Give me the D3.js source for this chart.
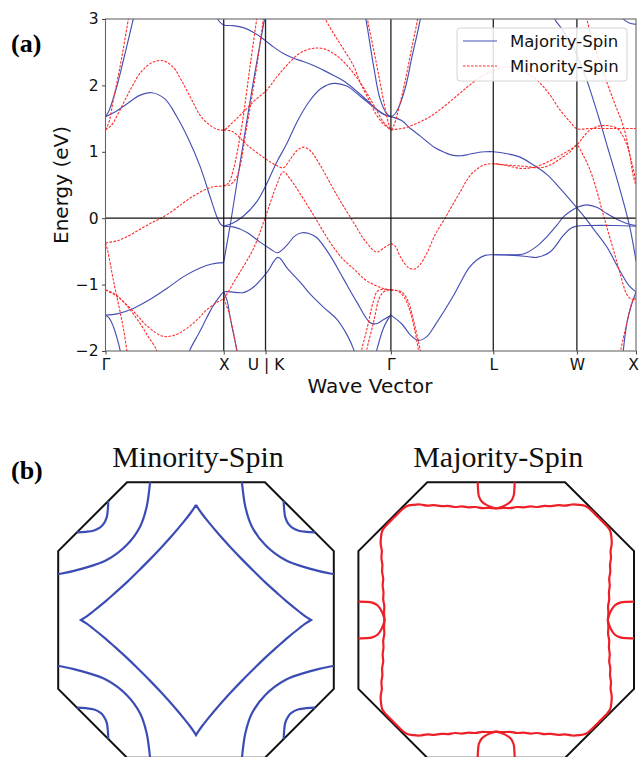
<!DOCTYPE html>
<html>
<head>
<meta charset="utf-8">
<script src="https://cdn.jsdelivr.net/npm/d3@7"></script>
<style>
  body { margin: 0; background: #fff; }
  svg { display: block; }
</style>
</head>
<body>
<svg id="fig" width="639" height="757"></svg>
<script>
// ---- band structure data (k in path units, E in eV) ----
const kTicks = [0, 1.0, 1.3536, 2.4142, 3.2802, 3.9873, 4.4874];
const kLabels = ["Γ", "X", "U | K", "Γ", "L", "W", "X"];
const yTicks = [-2, -1, 0, 1, 2, 3];

// majority spin bands
const majA = [[0,1.53],[0.03,1.62],[0.095,1.98],[0.165,2.48],[0.235,3.0],[0.25,3.12]];
const majB = [[0,1.53],[0.08,1.6],[0.18,1.72],[0.29,1.85],[0.39,1.89],[0.5,1.8],[0.6,1.54],[0.7,1.2],[0.8,0.78],[0.88,0.35],[0.94,0.03],[0.97,-0.08],[1.0,-0.12],[1.082,-0.13],[1.194,-0.21],[1.307,-0.36],[1.392,-0.46],[1.454,-0.52],[1.533,-0.41],[1.6,-0.27],[1.66,-0.22],[1.72,-0.23],[1.786,-0.29],[1.899,-0.56],[2.012,-0.91],[2.125,-1.26],[2.237,-1.57],[2.29,-1.59],[2.35,-1.53],[2.414,-1.46]];
const majC = [[1.0,-0.12],[1.07,-0.08],[1.165,0.03],[1.28,0.25],[1.35,0.47],[1.45,0.85],[1.533,1.12],[1.62,1.45],[1.72,1.75],[1.82,1.95],[1.93,2.03],[2.04,1.99],[2.16,1.83],[2.27,1.67],[2.35,1.57],[2.414,1.53]];
const majD = [[0.92,3.12],[0.96,2.97],[1.0,2.91],[1.08,2.9],[1.166,2.87],[1.25,2.8],[1.335,2.7],[1.42,2.58],[1.504,2.48],[1.59,2.41],[1.673,2.36],[1.76,2.3],[1.842,2.23],[1.93,2.15],[2.012,2.07],[2.1,1.95],[2.209,1.78],[2.3,1.63],[2.37,1.55],[2.414,1.53]];
const majE = [[2.17,3.2],[2.195,3.06],[2.266,2.31],[2.322,1.8],[2.38,1.57],[2.414,1.53],[2.46,1.6],[2.534,1.95],[2.59,2.41],[2.647,2.86],[2.68,3.15]];
const majF = [[2.414,1.53],[2.505,1.47],[2.58,1.35],[2.661,1.24],[2.788,1.06],[2.87,0.99],[2.929,0.95],[3.0,0.94],[3.07,0.96],[3.15,0.99],[3.211,1.0],[3.281,1.0],[3.4,0.97],[3.507,0.92],[3.62,0.8],[3.733,0.66],[3.845,0.45],[3.986,0.16],[4.06,0.0],[4.127,-0.16],[4.24,-0.43],[4.353,-0.8],[4.43,-1.02],[4.488,-1.11]];
const majG = [[0,-1.46],[0.1,-1.44],[0.235,-1.36],[0.38,-1.22],[0.518,-1.06],[0.66,-0.88],[0.8,-0.75],[0.9,-0.69],[1.0,-0.67]];
const majH = [[1.0,-0.66],[1.06,-0.05],[1.14,0.85],[1.25,2.05],[1.35,3.05],[1.36,3.15]];
const majI = [[0,-1.46],[0.03,-1.5],[0.066,-1.63],[0.1,-1.82],[0.125,-2.0],[0.135,-2.1]];
const majJ = [[0.7,-2.08],[0.715,-1.98],[0.8,-1.7],[0.856,-1.5],[0.91,-1.32],[0.97,-1.17],[1.0,-1.11],[1.06,-1.11],[1.166,-1.12],[1.25,-1.04],[1.364,-0.82],[1.46,-0.59],[1.54,-0.76],[1.65,-0.97],[1.74,-1.16],[1.85,-1.35],[1.956,-1.52],[2.05,-1.78],[2.1,-1.98],[2.12,-2.1]];
const majK = [[1.0,-1.11],[1.03,-1.25],[1.053,-1.48],[1.08,-1.72],[1.11,-1.98],[1.12,-2.1]];
const majL = [[2.28,-2.1],[2.294,-1.99],[2.35,-1.66],[2.39,-1.52],[2.414,-1.46]];
const majM = [[2.414,-1.46],[2.505,-1.59],[2.58,-1.76],[2.647,-1.84],[2.72,-1.78],[2.788,-1.61],[2.929,-1.21],[3.0,-0.98],[3.07,-0.76],[3.14,-0.63],[3.211,-0.56],[3.281,-0.55],[3.42,-0.55],[3.535,-0.54],[3.65,-0.42],[3.733,-0.28],[3.82,-0.1],[3.874,0.02],[3.93,0.1],[3.986,0.16],[4.071,0.2],[4.16,0.16],[4.24,0.07],[4.33,-0.02],[4.409,-0.08],[4.488,-0.11]];
const majN = [[3.281,-0.55],[3.45,-0.56],[3.58,-0.58],[3.647,-0.59],[3.76,-0.51],[3.873,-0.26],[3.93,-0.16],[3.986,-0.12],[4.1,-0.11],[4.3,-0.11],[4.488,-0.12]];
const majO = [[3.78,3.15],[3.8,3.0],[3.86,2.85],[3.95,2.6],[4.0,2.4],[4.071,2.08],[4.184,1.45],[4.25,1.05],[4.325,0.6],[4.38,0.25],[4.437,-0.15],[4.488,-0.65]];
const majP = [[4.35,3.15],[4.38,3.0],[4.43,2.94],[4.488,2.92]];
const majQ = [[4.488,-1.11],[4.45,-1.3],[4.41,-1.58],[4.381,-1.98],[4.375,-2.1]];

// minority spin bands
const minA = [[0,1.33],[0.03,1.45],[0.066,1.78],[0.123,2.28],[0.16,2.65],[0.193,3.0],[0.2,3.1]];
const minB = [[0,1.33],[0.05,1.4],[0.1,1.55],[0.2,1.9],[0.3,2.2],[0.4,2.35],[0.49,2.37],[0.57,2.28],[0.65,2.05],[0.73,1.78],[0.8,1.55],[0.87,1.42],[0.93,1.35],[1.0,1.33],[1.08,1.45],[1.166,1.6],[1.26,1.77],[1.364,1.93],[1.45,2.13],[1.533,2.3],[1.64,2.48],[1.76,2.56],[1.85,2.55],[1.93,2.48],[2.012,2.36],[2.1,2.18],[2.181,1.97],[2.27,1.7],[2.35,1.45],[2.414,1.33]];
const minC = [[0,-0.37],[0.1,-0.34],[0.2,-0.26],[0.3,-0.16],[0.4,-0.06],[0.47,0.0],[0.56,0.1],[0.65,0.22],[0.73,0.32],[0.82,0.41],[0.9,0.47],[1.0,0.49],[1.04,0.53],[1.08,0.72],[1.152,1.38],[1.222,2.28],[1.279,3.0],[1.29,3.15]];
const minC2 = [[1.0,0.49],[1.05,0.5],[1.11,0.62],[1.195,1.38],[1.279,2.28],[1.335,3.0],[1.345,3.15]];
const minD = [[0,-0.37],[0.02,-0.5],[0.066,-0.93],[0.12,-1.38],[0.15,-1.65],[0.18,-1.98],[0.19,-2.1]];
const minE = [[0,-1.08],[0.06,-1.12],[0.12,-1.2],[0.2,-1.36],[0.29,-1.58],[0.36,-1.78],[0.43,-1.98],[0.44,-2.1]];
const minF = [[0,-1.08],[0.1,-1.18],[0.235,-1.4],[0.35,-1.62],[0.489,-1.78],[0.6,-1.75],[0.687,-1.66],[0.78,-1.52],[0.856,-1.38],[0.93,-1.28],[1.0,-1.21],[1.025,-1.15],[1.08,-0.98],[1.138,-0.81],[1.251,-0.46],[1.349,0.0],[1.448,0.5],[1.504,0.7],[1.55,0.62],[1.617,0.45],[1.758,0.05],[1.899,-0.36],[2.0,-0.6],[2.097,-0.76],[2.2,-0.93],[2.28,-1.01],[2.35,-1.06],[2.414,-1.08]];
const minG = [[1.0,1.33],[1.08,1.3],[1.2,1.1],[1.349,0.9],[1.45,0.79],[1.504,0.76],[1.56,0.88],[1.62,1.02],[1.674,1.07],[1.73,1.02],[1.815,0.8],[1.956,0.35],[2.097,-0.06],[2.2,-0.35],[2.294,-0.51],[2.36,-0.44],[2.414,-0.38]];
const minH = [[1.0,-1.21],[1.04,-1.4],[1.08,-1.7],[1.11,-1.98],[1.12,-2.1]];
const minI = [[1.83,3.15],[1.843,3.06],[1.93,2.78],[2.012,2.55],[2.097,2.3],[2.153,2.05],[2.237,1.75],[2.294,1.55],[2.35,1.42],[2.414,1.33]];
const minJ = [[2.2,3.15],[2.215,3.0],[2.294,2.31],[2.36,1.7],[2.395,1.42],[2.414,1.33],[2.44,1.4],[2.49,1.72],[2.534,2.06],[2.59,2.56],[2.64,3.0],[2.65,3.15]];
const minK = [[2.155,-2.1],[2.167,-1.98],[2.21,-1.68],[2.266,-1.25],[2.3,-1.1],[2.35,-1.07],[2.414,-1.08]];
const minL = [[2.2,-2.1],[2.21,-1.98],[2.266,-1.58],[2.322,-1.18],[2.37,-1.09],[2.414,-1.08]];
const minM = [[2.414,-1.08],[2.477,-1.1],[2.53,-1.2],[2.576,-1.4],[2.62,-1.72],[2.647,-1.99],[2.655,-2.1]];
const minN = [[2.414,-1.08],[2.505,-1.11],[2.56,-1.25],[2.6,-1.5],[2.64,-1.8],[2.661,-1.99],[2.67,-2.1]];
const minO = [[2.414,-0.38],[2.45,-0.42],[2.5,-0.6],[2.56,-0.74],[2.61,-0.77],[2.66,-0.7],[2.72,-0.52],[2.788,-0.25],[2.872,0.0],[2.985,0.35],[3.098,0.67],[3.2,0.8],[3.281,0.82],[3.4,0.79],[3.507,0.75],[3.6,0.76],[3.68,0.8],[3.8,0.9],[3.9,1.0],[3.986,1.1],[4.04,1.22],[4.1,1.33],[4.183,1.39],[4.26,1.39],[4.33,1.35],[4.4,1.15],[4.44,0.92],[4.488,0.55]];
const minP = [[3.281,0.82],[3.4,0.8],[3.55,0.78],[3.68,0.76],[3.76,0.8],[3.85,0.9],[3.93,1.0],[3.986,1.1],[4.04,0.95],[4.1,0.72],[4.155,0.42],[4.2,0.12],[4.24,-0.13],[4.3,-0.5],[4.353,-0.83],[4.41,-1.15],[4.45,-1.22],[4.488,-1.21]];
const minQ = [[2.414,1.33],[2.53,1.36],[2.661,1.45],[2.788,1.58],[2.943,1.8],[3.07,1.99],[3.168,2.12],[3.281,2.22],[3.394,2.28],[3.5,2.24],[3.648,2.08],[3.75,1.88],[3.845,1.63],[3.93,1.45],[3.986,1.35],[4.1,1.35],[4.3,1.35],[4.488,1.35]];
const minR = [[4.06,3.15],[4.071,3.0],[4.184,2.33],[4.296,1.78],[4.381,1.38],[4.43,1.0],[4.465,0.63],[4.488,0.49]];
const minS = [[4.35,-2.1],[4.36,-1.98],[4.41,-1.58],[4.465,-1.23],[4.488,-1.21]];

const majorityBands = [majA, majB, majC, majD, majE, majF, majG, majH, majI, majJ, majK, majL, majM, majN, majO, majP, majQ];
const minorityBands = [minA, minB, minC, minC2, minD, minE, minF, minG, minH, minI, minJ, minK, minL, minM, minN, minO, minP, minQ, minR, minS];

// ---- Fermi surface cuts (BZ half-width = 1, y pointing down, top-left quadrant) ----
const bzOctagon = [[-0.5,-1],[0.5,-1],[1,-0.5],[1,0.5],[0.5,1],[-0.5,1],[-1,0.5],[-1,-0.5]];
const starQuad = [[0,-0.835],[-0.017,-0.808],[-0.042,-0.773],[-0.084,-0.719],[-0.167,-0.62],[-0.25,-0.528],[-0.334,-0.44],[-0.418,-0.356],[-0.501,-0.275],[-0.585,-0.199],[-0.668,-0.126],[-0.752,-0.058],[-0.793,-0.027],[-0.835,0]];
const cornerArc = [[-0.333,-1.0],[-0.334,-0.992],[-0.358,-0.822],[-0.406,-0.677],[-0.503,-0.544],[-0.648,-0.435],[-0.818,-0.375],[-0.992,-0.334],[-1.0,-0.333]];
const cornerPocket = [[-0.636,-0.864],[-0.64,-0.8],[-0.648,-0.745],[-0.672,-0.695],[-0.695,-0.672],[-0.745,-0.648],[-0.8,-0.64],[-0.864,-0.636]];
const squareQuad = [[0,-0.81],[-0.05,-0.814],[-0.1,-0.812],[-0.15,-0.82],[-0.2,-0.818],[-0.25,-0.824],[-0.3,-0.82],[-0.35,-0.828],[-0.4,-0.826],[-0.45,-0.833],[-0.5,-0.83],[-0.55,-0.838],[-0.6,-0.836],[-0.65,-0.826],[-0.69,-0.795],[-0.74,-0.745],[-0.795,-0.69],[-0.826,-0.65],[-0.836,-0.6],[-0.838,-0.55],[-0.83,-0.5],[-0.833,-0.45],[-0.826,-0.4],[-0.828,-0.35],[-0.82,-0.3],[-0.824,-0.25],[-0.818,-0.2],[-0.82,-0.15],[-0.812,-0.1],[-0.814,-0.05],[-0.81,0]];
const neckBranch = [[-0.134,-1.0],[-0.132,-0.95],[-0.126,-0.9],[-0.105,-0.86],[-0.065,-0.832],[-0.025,-0.816],[0,-0.81]];

const svg = d3.select("#fig");
const plot = { left: 105.5, right: 636, top: 19, bottom: 351 };

const x = d3.scaleLinear().domain([0, 4.4874]).range([plot.left, plot.right]);
const y = d3.scaleLinear().domain([-2, 3]).range([plot.bottom, plot.top]);

svg.append("defs").append("clipPath").attr("id", "plotClip")
  .append("rect")
  .attr("x", plot.left).attr("y", plot.top)
  .attr("width", plot.right - plot.left).attr("height", plot.bottom - plot.top);

// ---- panel (a): bands ----
const bandLine = d3.line()
  .x(d => x(d[0]))
  .y(d => y(d[1]))
  .curve(d3.curveCatmullRom.alpha(0.5));

const bands = svg.append("g").attr("clip-path", "url(#plotClip)");

bands.selectAll("path.maj")
  .data(majorityBands)
  .join("path")
  .attr("class", "maj")
  .attr("d", bandLine)
  .attr("fill", "none")
  .attr("stroke", "#4650b4")
  .attr("stroke-width", 1.15);

bands.selectAll("path.min")
  .data(minorityBands)
  .join("path")
  .attr("class", "min")
  .attr("d", bandLine)
  .attr("fill", "none")
  .attr("stroke", "#ff2a2a")
  .attr("stroke-width", 1.1)
  .attr("stroke-dasharray", "2.6,1.4");

// high symmetry lines and Fermi level
svg.append("g").selectAll("line")
  .data(kTicks.slice(1, -1))
  .join("line")
  .attr("x1", d => x(d)).attr("x2", d => x(d))
  .attr("y1", plot.top).attr("y2", plot.bottom)
  .attr("stroke", "#222").attr("stroke-width", 1.3);

svg.append("line")
  .attr("x1", plot.left).attr("x2", plot.right)
  .attr("y1", y(0)).attr("y2", y(0))
  .attr("stroke", "#111").attr("stroke-width", 1.3);

svg.append("rect")
  .attr("x", plot.left).attr("y", plot.top)
  .attr("width", plot.right - plot.left).attr("height", plot.bottom - plot.top)
  .attr("fill", "none").attr("stroke", "#666").attr("stroke-width", 1.1);

// axes
const yAxis = d3.axisLeft(y)
  .tickValues(yTicks)
  .tickSize(3.5)
  .tickPadding(3.5)
  .tickFormat(d => d < 0 ? "\u2212" + Math.abs(d) : String(d));

const xAxis = d3.axisBottom(x)
  .tickValues(kTicks)
  .tickSize(3.5)
  .tickPadding(4)
  .tickFormat((d, i) => kLabels[i]);

const gy = svg.append("g").attr("transform", `translate(${plot.left},0)`).call(yAxis);
const gx = svg.append("g").attr("transform", `translate(0,${plot.bottom})`).call(xAxis);

[gx, gy].forEach(g => {
  g.select(".domain").remove();
  g.selectAll(".tick line").attr("stroke", "#444");
  g.selectAll("text")
    .attr("font-family", "DejaVu Sans")
    .attr("font-size", 15.5)
    .attr("fill", "#111");
});

// last label sits on the figure edge: pull it in a little so it stays readable
gx.selectAll(".tick text").filter((d, i) => i === kTicks.length - 1).attr("dx", -3);

svg.append("text")
  .attr("transform", "translate(68,185) rotate(-90)")
  .attr("text-anchor", "middle")
  .attr("font-family", "DejaVu Sans").attr("font-size", 20)
  .attr("fill", "#111")
  .text("Energy (eV)");

svg.append("text")
  .attr("x", 370).attr("y", 393)
  .attr("text-anchor", "middle")
  .attr("font-family", "DejaVu Sans").attr("font-size", 20)
  .attr("fill", "#111")
  .text("Wave Vector");

// legend
const legend = svg.append("g");
legend.append("rect")
  .attr("x", 457).attr("y", 28).attr("width", 170).attr("height", 53).attr("rx", 3)
  .attr("fill", "#fff").attr("fill-opacity", 0.85)
  .attr("stroke", "#d4d4d4");
const legendItems = [
  { label: "Majority-Spin", color: "#4650b4", dash: null, y: 41 },
  { label: "Minority-Spin", color: "#ff2a2a", dash: "2.6,1.4", y: 66 }
];
legendItems.forEach(it => {
  legend.append("line")
    .attr("x1", 463).attr("x2", 497).attr("y1", it.y).attr("y2", it.y)
    .attr("stroke", it.color).attr("stroke-width", 1.15)
    .attr("stroke-dasharray", it.dash);
  legend.append("text")
    .attr("x", 510).attr("y", it.y + 6)
    .attr("font-family", "DejaVu Sans").attr("font-size", 16.5)
    .attr("fill", "#111")
    .text(it.label);
});

// panel labels
svg.append("text").attr("x", 11).attr("y", 52)
  .attr("font-family", "Liberation Serif").attr("font-weight", "bold").attr("font-size", 26)
  .text("(a)");
svg.append("text").attr("x", 11).attr("y", 479)
  .attr("font-family", "Liberation Serif").attr("font-weight", "bold").attr("font-size", 26)
  .text("(b)");

// ---- panel (b): Fermi surface cuts ----
// mirror helpers (BZ has the square symmetry)
const flipX = pts => pts.map(p => [-p[0], p[1]]);
const flipY = pts => pts.map(p => [p[0], -p[1]]);
const swapXY = pts => pts.map(p => [p[1], p[0]]);
const fourCorners = pts => [pts, flipX(pts), flipY(pts), flipX(flipY(pts))];

function closedQuad(q) {
  const r = q.slice().reverse();
  return [].concat(q, flipY(r), flipX(flipY(q)), flipX(r));
}

function drawPanel(cx, title, color, curves) {
  const half = 137.8;
  const sx = d3.scaleLinear().domain([-1, 1]).range([cx - half, cx + half]);
  const sy = d3.scaleLinear().domain([-1, 1]).range([620 - half, 620 + half]);
  const line = d3.line().x(d => sx(d[0])).y(d => sy(d[1])).curve(d3.curveCatmullRom.alpha(0.5));
  const g = svg.append("g");

  g.append("path")
    .attr("d", d3.line().x(d => sx(d[0])).y(d => sy(d[1]))(bzOctagon) + "Z")
    .attr("fill", "none").attr("stroke", "#111").attr("stroke-width", 2)
    .attr("stroke-linejoin", "miter");

  g.selectAll("path.fs")
    .data(curves)
    .join("path")
    .attr("class", "fs")
    .attr("d", line)
    .attr("fill", "none")
    .attr("stroke", color)
    .attr("stroke-width", 2.2);

  svg.append("text")
    .attr("x", cx + 2).attr("y", 467)
    .attr("text-anchor", "middle")
    .attr("font-family", "Liberation Serif").attr("font-size", 30)
    .attr("fill", "#111")
    .text(title);
}

const leftCurves = [closedQuad(starQuad)]
  .concat(fourCorners(cornerArc))
  .concat(fourCorners(cornerPocket));

// each neck is two separate branches meeting in a point on the big sheet
const neckTop = [neckBranch, flipX(neckBranch)];
const necks = neckTop
  .concat(neckTop.map(flipY))
  .concat(neckTop.map(swapXY))
  .concat(neckTop.map(b => flipX(swapXY(b))));
const rightCurves = [closedQuad(squareQuad)].concat(necks);

drawPanel(196, "Minority-Spin", "#3b4db5", leftCurves);
drawPanel(496.2, "Majority-Spin", "#ee1f26", rightCurves);
</script>
</body>
</html>
